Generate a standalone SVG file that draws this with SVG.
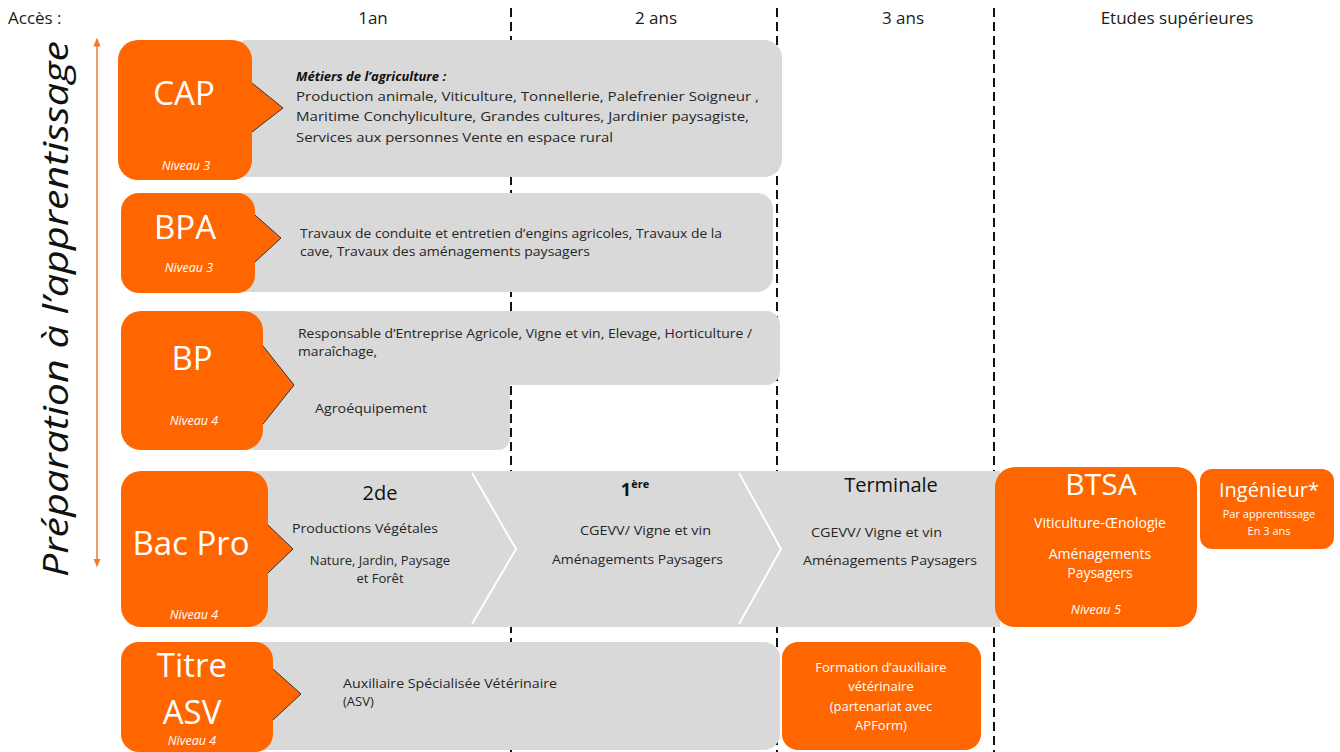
<svg xmlns="http://www.w3.org/2000/svg" width="1340" height="752" viewBox="0 0 1340 752">
<defs>
<style>
text{font-family:"Open Sans","Noto Sans",sans-serif;fill:#262626}
.hdr{font-size:17px;fill:#1a1a1a}
.or{fill:#FF6600}
.gr{fill:#D9D9D9}
.big{fill:#fff;font-size:33px;text-anchor:middle}
.niv{fill:#fff;font-size:12.5px;font-style:italic;text-anchor:middle}
.t{font-size:13px}
.tc{font-size:13px;text-anchor:middle}
.w{fill:#fff;text-anchor:middle}
.tri{fill:#FF6600;stroke:#333;stroke-width:1}
.dash{stroke:#111;stroke-width:2;stroke-dasharray:9 5}
</style>
<marker id="ah" viewBox="0 0 10 10" refX="5" refY="5" markerWidth="6" markerHeight="6" orient="auto-start-reverse"><path d="M0,1 L10,5 L0,9 z" fill="#ED7D31"/></marker>
</defs>
<rect width="1340" height="752" fill="#fff"/>

<g id="grid">
<line class="dash" x1="511" y1="8" x2="511" y2="752"/>
<line class="dash" x1="777" y1="8" x2="777" y2="752"/>
<line class="dash" x1="994" y1="8" x2="994" y2="752"/>
</g>

<g id="header">
<text class="hdr" x="8" y="24">Accès :</text>
<text class="hdr" x="373" y="24" text-anchor="middle">1an</text>
<text class="hdr" x="656" y="24" text-anchor="middle">2 ans</text>
<text class="hdr" x="903" y="24" text-anchor="middle">3 ans</text>
<text class="hdr" x="1177" y="24" text-anchor="middle">Etudes supérieures</text>
</g>

<g id="side">
<line x1="97" y1="42" x2="97" y2="563" stroke="#ED7D31" stroke-width="1.5" marker-start="url(#ah)" marker-end="url(#ah)"/>
<text transform="translate(68,309) rotate(-90)" text-anchor="middle" font-size="34" font-style="italic" textLength="536" lengthAdjust="spacingAndGlyphs" style="fill:#111">Préparation à l’apprentissage</text>
</g>

<g id="cap">
<rect class="gr" x="230" y="40" width="552" height="137" rx="18"/>
<rect class="or" x="118" y="40" width="134" height="140" rx="20"/>
<path class="tri" d="M252,83 L283,108 L252,132"/>
<rect class="or" x="240" y="84" width="13" height="47"/>
<text class="big" x="184" y="105">CAP</text>
<text class="niv" x="186" y="170">Niveau 3</text>
<text class="t" x="296" y="81" font-weight="bold" font-style="italic" style="fill:#111">Métiers de l’agriculture :</text>
<text class="t" x="296" y="101" textLength="463" lengthAdjust="spacingAndGlyphs">Production  animale, Viticulture, Tonnellerie, Palefrenier Soigneur  ,</text>
<text class="t" x="296" y="121" textLength="453" lengthAdjust="spacingAndGlyphs">Maritime  Conchyliculture, Grandes cultures, Jardinier paysagiste,</text>
<text class="t" x="296" y="142" textLength="317" lengthAdjust="spacingAndGlyphs">Services aux personnes Vente  en espace rural</text>
</g>

<g id="bpa">
<rect class="gr" x="200" y="193" width="573" height="99" rx="16"/>
<rect class="or" x="121" y="193" width="134" height="100" rx="18"/>
<path class="tri" d="M255,215 L281,238 L255,262"/>
<rect class="or" x="245" y="216" width="11" height="45"/>
<text class="big" x="185" y="239" font-size="32">BPA</text>
<text class="niv" x="189" y="272">Niveau 3</text>
<text class="t" x="300" y="238" textLength="422" lengthAdjust="spacingAndGlyphs">Travaux de conduite et entretien d’engins agricoles, Travaux de la</text>
<text class="t" x="300" y="256" textLength="290" lengthAdjust="spacingAndGlyphs">cave, Travaux des aménagements  paysagers</text>
</g>

<g id="bp">
<rect class="gr" x="200" y="311" width="580" height="74" rx="14"/>
<rect class="gr" x="200" y="360" width="310" height="90" rx="12"/>
<rect class="gr" x="200" y="360" width="310" height="25"/>
<rect class="or" x="121" y="311" width="142" height="139" rx="20"/>
<path class="tri" d="M263,346 L294,385 L263,424"/>
<rect class="or" x="252" y="347" width="12" height="76"/>
<text class="big" x="192" y="370" font-size="32">BP</text>
<text class="niv" x="194" y="425">Niveau 4</text>
<text class="t" x="298" y="338" textLength="454" lengthAdjust="spacingAndGlyphs">Responsable d’Entreprise Agricole, Vigne et vin, Elevage, Horticulture /</text>
<text class="t" x="298" y="356" textLength="79" lengthAdjust="spacingAndGlyphs">maraîchage,</text>
<text class="t" x="315" y="413" textLength="112" lengthAdjust="spacingAndGlyphs">Agroéquipement</text>
</g>

<g id="bacpro">
<rect class="gr" x="200" y="471" width="800" height="156"/>
<path d="M472,473 L516,549 L472,624" fill="none" stroke="#fff" stroke-width="2"/>
<path d="M739,473 L781,549 L739,624" fill="none" stroke="#fff" stroke-width="2"/>
<rect class="or" x="121" y="471" width="147" height="156" rx="20"/>
<path class="tri" d="M268,525 L293,549 L268,573"/>
<rect class="or" x="258" y="526" width="11" height="46"/>
<text class="big" x="191" y="555" font-size="34">Bac Pro</text>
<text class="niv" x="194" y="619">Niveau 4</text>
<text x="380" y="500" text-anchor="middle" font-size="20" style="fill:#111">2de</text>
<text class="t" x="292" y="533" textLength="146" lengthAdjust="spacingAndGlyphs">Productions Végétales</text>
<text class="tc" x="380" y="565">Nature, Jardin, Paysage</text>
<text class="tc" x="380" y="583">et Forêt</text>
<text x="635" y="496" text-anchor="middle" font-size="18" font-weight="bold" style="fill:#111">1<tspan font-size="11" dy="-8">ère</tspan></text>
<text class="t" x="580" y="535" textLength="131" lengthAdjust="spacingAndGlyphs">CGEVV/ Vigne et vin</text>
<text class="t" x="552" y="564" textLength="171" lengthAdjust="spacingAndGlyphs">Aménagements Paysagers</text>
<text x="891" y="492" text-anchor="middle" font-size="20" style="fill:#111">Terminale</text>
<text class="t" x="811" y="537" textLength="131" lengthAdjust="spacingAndGlyphs">CGEVV/ Vigne et vin</text>
<text class="t" x="803" y="565" textLength="174" lengthAdjust="spacingAndGlyphs">Aménagements  Paysagers</text>
</g>

<g id="btsa">
<rect class="or" x="995" y="467" width="202" height="160" rx="20"/>
<text class="w" x="1101" y="495" font-size="30">BTSA</text>
<text class="w" x="1100" y="528" font-size="14">Viticulture-Œnologie</text>
<text class="w" x="1100" y="559" font-size="14">Aménagements</text>
<text class="w" x="1100" y="578" font-size="14">Paysagers</text>
<text class="w" x="1096" y="614" font-size="13" font-style="italic">Niveau 5</text>
</g>

<g id="ingenieur">
<rect class="or" x="1200" y="469" width="134" height="80" rx="12"/>
<text class="w" x="1269" y="497" font-size="20">Ingénieur*</text>
<text class="w" x="1269" y="518" font-size="11">Par apprentissage</text>
<text class="w" x="1269" y="535" font-size="11">En 3 ans</text>
</g>

<g id="asv">
<rect class="gr" x="230" y="642" width="550" height="108" rx="16"/>
<rect class="or" x="121" y="642" width="152" height="110" rx="18"/>
<path class="tri" d="M273,669 L301,694 L273,720"/>
<rect class="or" x="263" y="670" width="11" height="49"/>
<text class="big" x="192" y="677" font-size="34">Titre</text>
<text class="big" x="192" y="724" font-size="34">ASV</text>
<text class="niv" x="192" y="745">Niveau 4</text>
<text class="t" x="343" y="688" textLength="214" lengthAdjust="spacingAndGlyphs">Auxiliaire Spécialisée Vétérinaire</text>
<text class="t" x="343" y="706">(ASV)</text>
</g>

<g id="formation">
<rect class="or" x="782" y="642" width="199" height="108" rx="16"/>
<text class="w" x="881" y="672" font-size="13">Formation d’auxiliaire</text>
<text class="w" x="881" y="691" font-size="13">vétérinaire</text>
<text class="w" x="881" y="711" font-size="13">(partenariat avec</text>
<text class="w" x="881" y="730" font-size="13">APForm)</text>
</g>
</svg>
